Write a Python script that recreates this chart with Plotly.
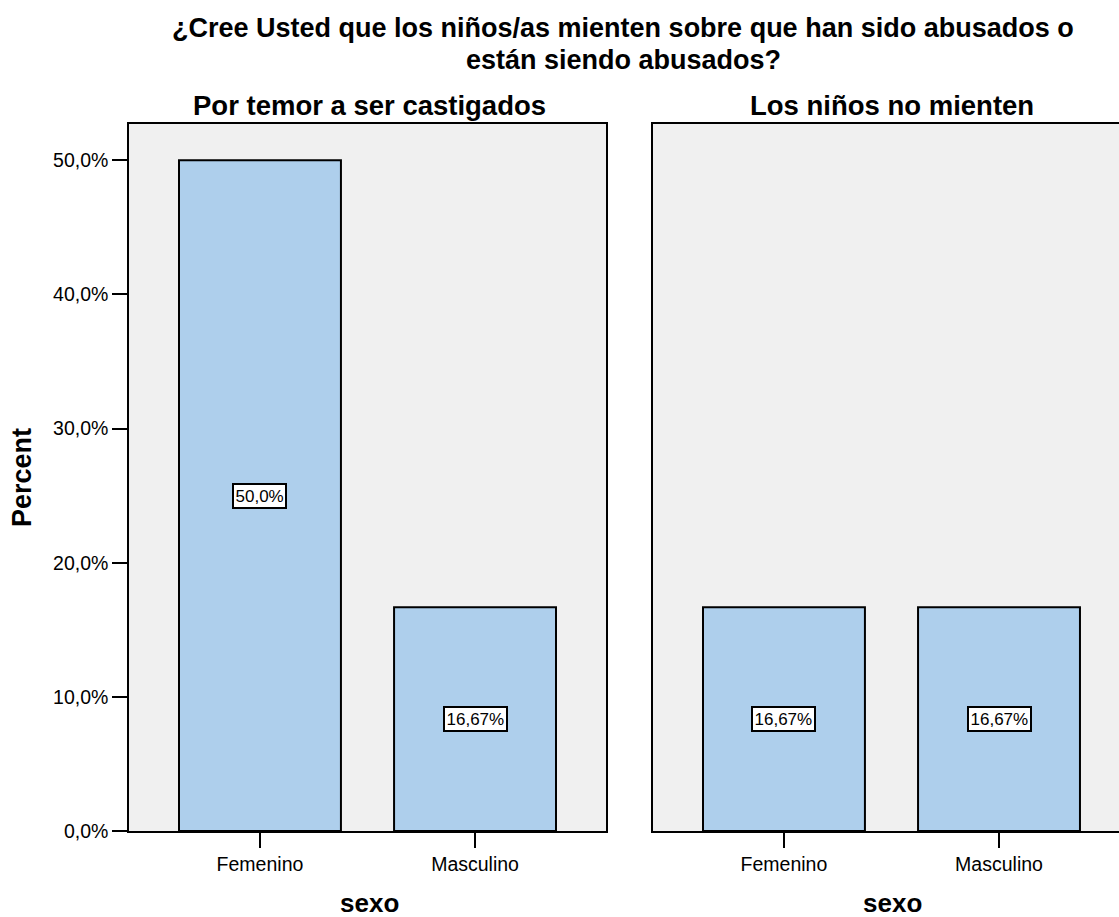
import plotly.graph_objects as go

categories = ["Femenino", "Masculino"]
panel_titles = ["Por temor a ser castigados", "Los niños no mienten"]
values_left = [50.0, 16.67]
values_right = [16.67, 16.67]
label_left = ["50,0%", "16,67%"]
label_right = ["16,67%", "16,67%"]
y_ticks = [0, 10, 20, 30, 40, 50]
y_ticktext = ["0,0%", "10,0%", "20,0%", "30,0%", "40,0%", "50,0%"]
title_lines = ["¿Cree Usted que los niños/as mienten sobre que han sido abusados o",
               "están siendo abusados?"]
x_title = "sexo"
y_title = "Percent"

W, H = 1119, 917
FONT = "Liberation Sans, Arial, sans-serif"
BAR = "#aecfec"
BG = "#f0f0f0"
TICKF = 19.5

fig = go.Figure()
for i, (vals, labs) in enumerate([(values_left, label_left), (values_right, label_right)]):
    xa = "x" if i == 0 else "x2"
    ya = "y" if i == 0 else "y2"
    fig.add_trace(go.Bar(x=categories, y=vals, xaxis=xa, yaxis=ya, width=0.753,
                         marker=dict(color=BAR, line=dict(color="black", width=2)),
                         showlegend=False, hoverinfo="skip"))
    for c, v, t in zip(categories, vals, labs):
        fig.add_annotation(x=c, y=v / 2, xref=xa, yref=ya, text=t, showarrow=False,
                           font=dict(family=FONT, size=17, color="black"),
                           bgcolor="white", bordercolor="black", borderwidth=2, borderpad=1.5)

ydom = [1 - 831 / H, 1 - 124 / H]
yr = [0, 52.7]
axline = dict(showline=True, linecolor="black", linewidth=1.5, mirror=True, showgrid=False)
fig.update_layout(
    width=W, height=H, margin=dict(l=0, r=0, t=0, b=0, autoexpand=False),
    paper_bgcolor="white", plot_bgcolor=BG,
    font=dict(family=FONT, size=TICKF, color="black"),
    xaxis=dict(domain=[129 / W, 606 / W], range=[-0.609, 1.609], anchor="y",
               ticks="outside", ticklen=15, tickcolor="black", tickwidth=2,
               tickfont=dict(size=TICKF), **axline),
    xaxis2=dict(domain=[653 / W, 1.0], range=[-0.609, 1.558], anchor="y2",
                ticks="outside", ticklen=15, tickcolor="black", tickwidth=2,
                tickfont=dict(size=TICKF), **axline),
    yaxis=dict(domain=ydom, range=yr, zeroline=False, anchor="x",
               tickvals=y_ticks, ticktext=y_ticktext, ticks="outside", ticklen=15,
               tickcolor="black", tickwidth=2, tickfont=dict(size=TICKF), **axline),
    yaxis2=dict(domain=ydom, range=yr, zeroline=False, anchor="x2",
                showticklabels=False, ticks="", **axline),
)

# Main title (two lines)
for yy, line in zip([28, 60], title_lines):
    fig.add_annotation(x=623 / W, y=1 - yy / H, xref="paper", yref="paper",
                       text="<b>" + line + "</b>", showarrow=False,
                       font=dict(family=FONT, size=27, color="black"),
                       xanchor="center", yanchor="middle")
# Panel titles and x titles
for cx, t in zip([369, 892], panel_titles):
    fig.add_annotation(x=cx / W, y=1 - 106 / H, xref="paper", yref="paper", text="<b>" + t + "</b>",
                       showarrow=False, font=dict(family=FONT, size=27.5, color="black"),
                       xanchor="center", yanchor="middle")
    fig.add_annotation(x=cx / W, y=1 - 903 / H, xref="paper", yref="paper", text="<b>" + x_title + "</b>",
                       showarrow=False, font=dict(family=FONT, size=26, color="black"),
                       xanchor="center", yanchor="middle")
# Y title
fig.add_annotation(x=22 / W, y=1 - 478 / H, xref="paper", yref="paper", text="<b>" + y_title + "</b>",
                   showarrow=False, textangle=-90, font=dict(family=FONT, size=27, color="black"),
                   xanchor="center", yanchor="middle")

fig.write_html("out.html", config={"displayModeBar": False},
               post_script="document.body.style.margin='0';document.body.style.overflow='hidden';")
